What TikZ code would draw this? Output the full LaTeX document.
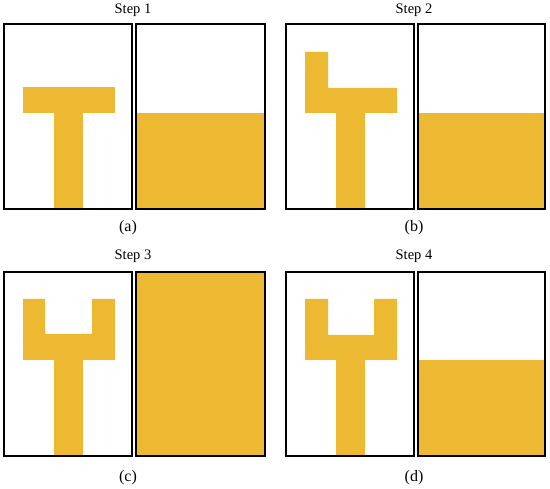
\documentclass[tikz,border=0pt]{standalone}
\usepackage{fontspec}
\setmainfont{Liberation Serif}
\definecolor{gold}{RGB}{237,184,50}
\begin{document}
\begin{tikzpicture}[x=1pt,y=-1pt,
  frame/.style={draw=black,line width=1.1pt},
  fillg/.style={fill=gold,draw=none},
  title/.style={font=\fontsize{14.5}{15}\selectfont,inner sep=0pt},
  lab/.style={font=\fontsize{16}{17}\selectfont,inner sep=0pt}]
\useasboundingbox (0,0) rectangle (550,489);
% ---- (a)
\fill[fillg] (23,87) rectangle (115,113);
\fill[fillg] (54,113) rectangle (83,209);
\fill[fillg] (136,113) rectangle (265,209);
\draw[frame] (4,24) rectangle (132,209);
\draw[frame] (136,24) rectangle (265,209);
\node[title] (t1) at (133,10) {Step 1};
\node[lab] (la) at (128,228) {(a)};
% ---- (b)
\fill[fillg] (305,52) -- (328,52) -- (328,88) -- (397,88) -- (397,113) -- (365,113) -- (365,209) -- (336,209) -- (336,113) -- (305,113) -- cycle;
\fill[fillg] (418,113) rectangle (545,209);
\draw[frame] (286,24) rectangle (414,209);
\draw[frame] (418,24) rectangle (545,209);
\node[title] (t2) at (414,10) {Step 2};
\node[lab] (lb) at (414,228) {(b)};
% ---- (c)
\fill[fillg] (23,299) -- (45,299) -- (45,334) -- (92,334) -- (92,299) -- (115,299) -- (115,360) -- (83,360) -- (83,456) -- (54,456) -- (54,360) -- (23,360) -- cycle;
\fill[fillg] (136,272) rectangle (265,456);
\draw[frame] (4,272) rectangle (132,456);
\draw[frame] (136,272) rectangle (265,456);
\node[title] (t3) at (133,256) {Step 3};
\node[lab] (lc) at (128,478) {(c)};
% ---- (d)
\fill[fillg] (305,299) -- (328,299) -- (328,335) -- (374,335) -- (374,299) -- (397,299) -- (397,360) -- (365,360) -- (365,456) -- (336,456) -- (336,360) -- (305,360) -- cycle;
\fill[fillg] (418,360) rectangle (545,456);
\draw[frame] (286,272) rectangle (414,456);
\draw[frame] (418,272) rectangle (545,456);
\node[title] (t4) at (414,256) {Step 4};
\node[lab] (ld) at (414,478) {(d)};
\end{tikzpicture}
\end{document}
